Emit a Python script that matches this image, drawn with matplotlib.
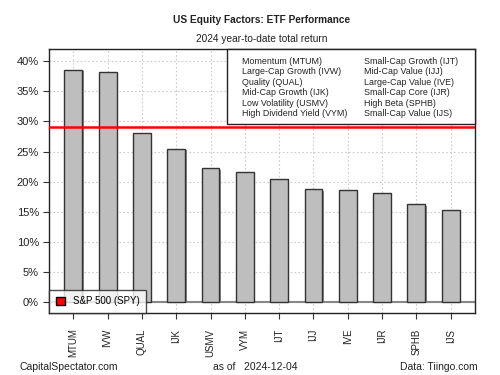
import matplotlib
matplotlib.use("Agg")
import matplotlib.pyplot as plt
import numpy as np
from matplotlib.patches import Patch

plt.rcParams['font.family'] = ['Liberation Sans', 'DejaVu Sans']

tickers = ["MTUM", "IVW", "QUAL", "IJK", "USMV", "VYM", "IJT", "IJJ", "IVE", "IJR", "SPHB", "IJS"]
returns = [38.6, 38.2, 28.0, 25.5, 22.2, 21.6, 20.4, 18.7, 18.6, 18.1, 16.2, 15.2]
spy = 29.1

legend_left = ["Momentum (MTUM)", "Large-Cap Growth (IVW)", "Quality (QUAL)",
               "Mid-Cap Growth (IJK)", "Low Volatility (USMV)", "High Dividend Yield (VYM)"]
legend_right = ["Small-Cap Growth (IJT)", "Mid-Cap Value (IJJ)", "Large-Cap Value (IVE)",
                "Small-Cap Core (IJR)", "High Beta (SPHB)", "Small-Cap Value (IJS)"]

fig = plt.figure(figsize=(5, 3.75), dpi=100)
ax = fig.add_axes([49.3/500, 1-313.3/375, (475-49.3)/500, (313.3-49.3)/375])

ind = np.arange(len(tickers))
ax.grid(True, color='#cccccc', linestyle=(0, (1.5, 2)), linewidth=0.8)
ax.set_axisbelow(True)
# shadow then bars
ax.bar(ind + 0.04, returns, 0.52, bottom=-0.25, color='#888888', zorder=2)
ax.bar(ind, returns, 0.52, color='#bebebe', edgecolor='#333333', linewidth=1, zorder=3)
ax.axhline(0, color='#888888', linewidth=1.5, zorder=2.5)
ax.axhline(spy, color='red', linewidth=1.8, zorder=4)

ax.set_xlim(-0.7, 11.71)
ax.set_ylim(-1.9, 42.0)
ax.set_yticks(np.arange(0, 41, 5))
ax.set_yticklabels([f"{v}%" for v in range(0, 41, 5)], fontsize=8)
ax.set_xticks(ind)
ax.set_xticklabels(tickers, rotation=90, fontsize=7)
ax.tick_params(axis='both', length=4, color='#333333', labelcolor='#222222')
ax.tick_params(axis='x', pad=7)
for s in ax.spines.values():
    s.set_color('#222222')
    s.set_linewidth(1)

# factor legend box
box = plt.Rectangle((227/500, 1-124/375), (475-227)/500, (124-49.3)/375, transform=fig.transFigure,
                    facecolor='white', edgecolor='#222222', linewidth=1, zorder=5)
fig.add_artist(box)
for i, (l, r) in enumerate(zip(legend_left, legend_right)):
    y = 1 - (61 + i * 10.6) / 375
    fig.text(242/500, y, l, fontsize=6.4, va='center', color='#222222', zorder=6)
    fig.text(364/500, y, r, fontsize=6.4, va='center', color='#222222', zorder=6)

leg = ax.legend(handles=[Patch(facecolor='red', edgecolor='black', label='S&P 500 (SPY)')],
                loc='lower left', fontsize=7, frameon=True, fancybox=False,
                borderaxespad=0, handlelength=0.9, handleheight=0.9, borderpad=0.7)
leg.get_frame().set_edgecolor('#222222')
leg.get_frame().set_linewidth(1)
leg.set_zorder(6)

fig.text(262/500, 1-20/375, "US Equity Factors: ETF Performance", ha='center', va='center',
         fontsize=7.3, fontweight='bold', color='#222222')
fig.text(262/500, 1-39/375, "2024 year-to-date total return", ha='center', va='center',
         fontsize=7.3, color='#222222')
fig.text(20/500, 1-367/375, "CapitalSpectator.com", ha='left', va='center', fontsize=7.5, color='#222222')
fig.text(255/500, 1-367/375, "as of   2024-12-04", ha='center', va='center', fontsize=7.5, color='#222222')
fig.text(478/500, 1-367/375, "Data: Tiingo.com", ha='right', va='center', fontsize=7.5, color='#222222')

fig.savefig("out.png", dpi=100)
